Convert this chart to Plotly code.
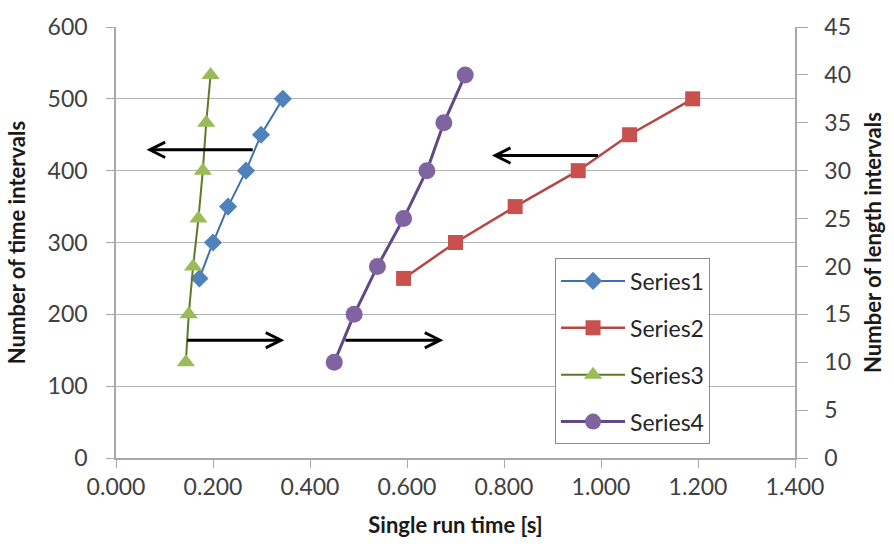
import plotly.graph_objects as go

# Series1 / Series2 are plotted against time intervals (left axis),
# Series3 / Series4 against length intervals (right axis).
time_intervals = [250, 300, 350, 400, 450, 500]
s1_run_time = [0.172, 0.200, 0.231, 0.268, 0.299, 0.344]
s2_run_time = [0.593, 0.700, 0.823, 0.953, 1.059, 1.189]

length_intervals = [10, 15, 20, 25, 30, 35, 40]
s3_run_time = [0.144, 0.150, 0.159, 0.170, 0.179, 0.186, 0.195]
s4_run_time = [0.450, 0.491, 0.539, 0.593, 0.641, 0.676, 0.720]

x_ticks = [0.0, 0.2, 0.4, 0.6, 0.8, 1.0, 1.2, 1.4]
left_ticks = [0, 100, 200, 300, 400, 500, 600]
right_ticks = [0, 5, 10, 15, 20, 25, 30, 35, 40, 45]

FONT = "Lato"
TICK_FONT = dict(family=FONT, size=23, color="#404040")
TITLE_FONT = dict(family=FONT, size=22, color="#1a1a1a")
AXIS_GREY = "#a8a8a8"

fig = go.Figure()

fig.add_trace(go.Scatter(
    x=s1_run_time, y=time_intervals, name="Series1", mode="lines+markers",
    line=dict(color="#3f6fae", width=2),
    marker=dict(symbol="diamond", size=14, color="#4f81bd"),
    legendgroup="1", yaxis="y"))
fig.add_trace(go.Scatter(
    x=s2_run_time, y=time_intervals, name="Series2", mode="lines+markers",
    line=dict(color="#b84643", width=2.5),
    marker=dict(symbol="square", size=15, color="#c8504d"),
    legendgroup="2", yaxis="y"))
fig.add_trace(go.Scatter(
    x=s3_run_time, y=length_intervals, name="Series3", mode="lines+markers",
    line=dict(color="#5d7a25", width=2),
    marker=dict(symbol="triangle-up", size=16, color="#9bbb59"),
    legendgroup="3", yaxis="y2"))
fig.add_trace(go.Scatter(
    x=s4_run_time, y=length_intervals, name="Series4", mode="lines+markers",
    line=dict(color="#5e4a86", width=3),
    marker=dict(symbol="circle", size=17, color="#8064a2"),
    legendgroup="4", yaxis="y2"))

# Arrows pointing each curve towards the axis it is read against
arrows = [
    dict(x=0.063, y=429, ax=0.285, ay=429),
    dict(x=0.347, y=164, ax=0.144, ay=164),
    dict(x=0.675, y=164, ax=0.470, ay=164),
    dict(x=0.775, y=421, ax=0.997, ay=421),
]
for a in arrows:
    fig.add_annotation(
        x=a["x"], y=a["y"], ax=a["ax"], ay=a["ay"],
        xref="x", yref="y", axref="x", ayref="y",
        showarrow=True, arrowhead=5, arrowsize=1, arrowwidth=3,
        arrowcolor="#000000", standoff=0, text="")

fig.update_layout(
    width=894, height=547,
    margin=dict(l=116, r=96, t=26, b=89),
    paper_bgcolor="white", plot_bgcolor="white",
    font=dict(family=FONT),
    xaxis=dict(
        range=[0, 1.4], tickvals=x_ticks, tickformat=".3f",
        tickfont=TICK_FONT, ticks="outside", ticklen=8, tickcolor=AXIS_GREY,
        showline=True, linecolor=AXIS_GREY, linewidth=1.5,
        showgrid=False, zeroline=False,
        title=dict(text="<b>Single run time [s]</b>", font=TITLE_FONT, standoff=18)),
    yaxis=dict(
        range=[0, 600], tickvals=left_ticks,
        tickfont=TICK_FONT, ticks="outside", ticklen=8, tickcolor=AXIS_GREY,
        ticklabelstandoff=14,
        showline=True, linecolor=AXIS_GREY, linewidth=1.5,
        showgrid=True, gridcolor="#b4b4b4", gridwidth=1.2, zeroline=False,
        title=dict(text="<b>Number of time intervals</b>", font=TITLE_FONT, standoff=16)),
    yaxis2=dict(
        range=[0, 45], tickvals=right_ticks, overlaying="y", side="right",
        tickfont=TICK_FONT, ticks="outside", ticklen=11, tickcolor=AXIS_GREY,
        ticklabelstandoff=12,
        showline=True, linecolor=AXIS_GREY, linewidth=1.5,
        showgrid=False, zeroline=False,
        title=dict(text="<b>Number of length intervals</b>", font=TITLE_FONT, standoff=16)),
    legend=dict(
        x=0.6466, y=0.463, xanchor="left", yanchor="top",
        bgcolor="white", bordercolor="#8c8c8c", borderwidth=1,
        font=dict(family=FONT, size=23, color="#262626"),
        traceorder="grouped", tracegroupgap=14, itemwidth=64),
    showlegend=True,
)

fig.write_html("out.html")
